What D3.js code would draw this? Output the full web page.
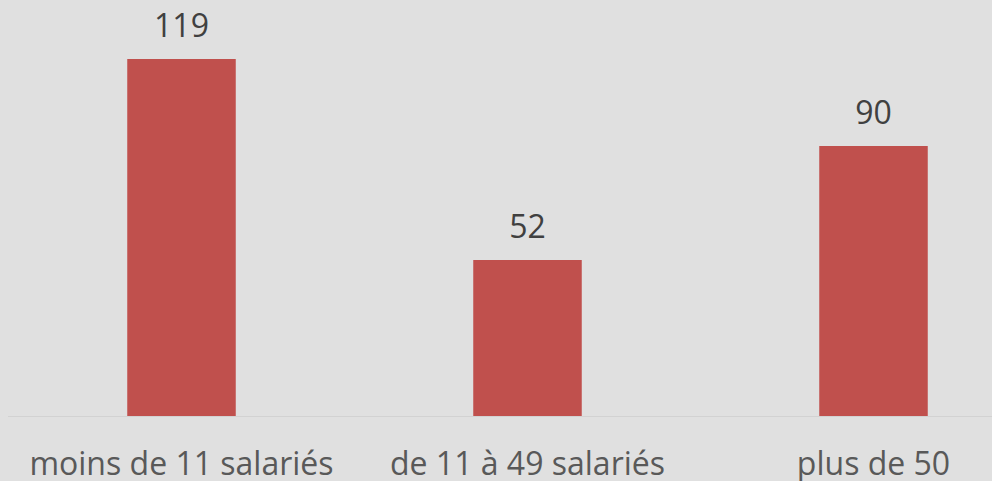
<!DOCTYPE html>
<html>
<head>
<meta charset="utf-8">
<script src="https://cdn.jsdelivr.net/npm/d3@7"></script>
<style>
  html, body { margin: 0; padding: 0; background: #e0e0e0; overflow: hidden; }
  svg { display: block; }
</style>
</head>
<body>
<script>
const categories = ["moins de 11 salariés", "de 11 à 49 salariés", "plus de 50"];
const values = [119, 52, 90];

const W = 992, H = 481;
const svg = d3.select("body").append("svg").attr("width", W).attr("height", H);
svg.append("rect").attr("width", W).attr("height", H).attr("fill", "#e0e0e0");

const x = d3.scaleBand()
  .domain(categories)
  .range([8.5, 1046.5])
  .paddingInner(0.6864)
  .paddingOuter(0.3432);

const y = d3.scaleLinear().domain([0, 130]).range([416, 26]);

// baseline axis
svg.append("line")
  .attr("x1", 8).attr("x2", W)
  .attr("y1", y(0) + 0.5).attr("y2", y(0) + 0.5)
  .attr("stroke", "#d2d2d2").attr("stroke-width", 1);

const data = categories.map((c, i) => ({ c, v: values[i] }));

svg.selectAll("rect.bar").data(data).enter().append("rect")
  .attr("class", "bar")
  .attr("x", d => x(d.c))
  .attr("width", x.bandwidth())
  .attr("y", d => y(d.v))
  .attr("height", d => y(0) - y(d.v))
  .attr("fill", "#c0504d");

svg.selectAll("text.val").data(data).enter().append("text")
  .attr("class", "val")
  .attr("x", d => x(d.c) + x.bandwidth() / 2)
  .attr("y", d => y(d.v) - 21.7)
  .attr("text-anchor", "middle")
  .attr("font-family", "'Open Sans', sans-serif")
  .attr("font-size", 32)
  .attr("fill", "#404040")
  .text(d => d.v);

svg.selectAll("text.cat").data(data).enter().append("text")
  .attr("class", "cat")
  .attr("x", d => x(d.c) + x.bandwidth() / 2)
  .attr("y", 475)
  .attr("text-anchor", "middle")
  .attr("font-family", "'Open Sans', sans-serif")
  .attr("font-size", 32)
  .attr("fill", "#595959")
  .text(d => d.c);
</script>
</body>
</html>
